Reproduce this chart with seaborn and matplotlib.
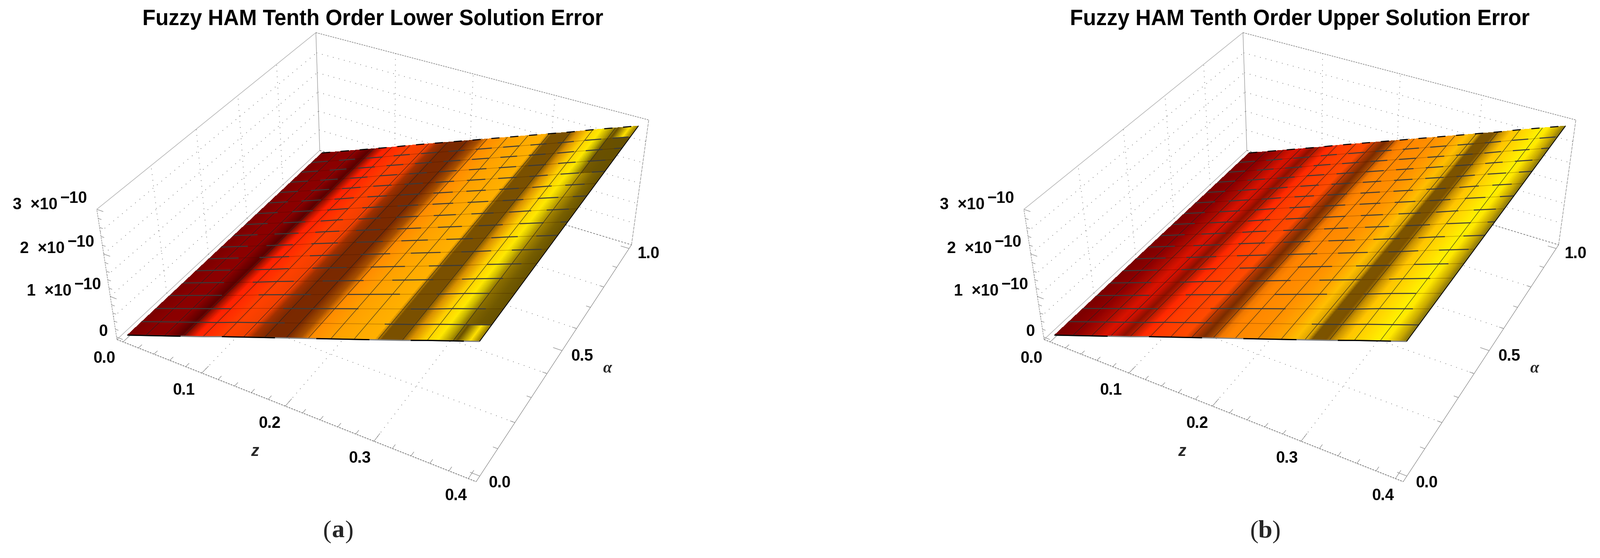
import numpy as np
import seaborn as sns
import matplotlib
matplotlib.use("Agg")
import matplotlib.pyplot as plt
from matplotlib.colors import LinearSegmentedColormap
from mpl_toolkits.mplot3d.art3d import Line3DCollection

# surface height (units of 1e-10) at the 17 mesh lines
lower_error = [0.00, 0.18, 0.36, 0.54, 0.72, 0.91, 1.09, 1.27, 1.45, 1.63, 1.81, 1.99, 2.17, 2.35, 2.54, 2.72, 2.90]
upper_error = [0.00, 0.18, 0.36, 0.54, 0.72, 0.91, 1.09, 1.27, 1.45, 1.63, 1.81, 1.99, 2.17, 2.35, 2.54, 2.72, 2.90]

# colour bands, stop = position counted in mesh cells
lower_stops = [0, 0.95, 2.0, 2.8, 3.14, 3.6, 4.05, 5.1, 6.0, 6.4, 7, 8, 8.6, 9.05, 10.05, 11, 11.8, 12.1, 12.9,
               13.3, 13.8, 14.35, 14.65, 15, 16]
lower_colors = ["#7a0000", "#8a0000", "#8c0000", "#5a0000", "#a01000", "#ff2000", "#ff2a00", "#ff4000", "#f04000",
                "#a03000", "#7a2800", "#7a2a00", "#a85000", "#ff8c00", "#ffa000", "#ffaa00", "#ffb000", "#7a5000",
                "#7a5000", "#d89000", "#ffcc00", "#ffe800", "#c0b000", "#6a5000", "#665000"]
upper_stops = [0, 1.15, 2.0, 2.6, 3.1, 3.6, 4.05, 4.55, 5.2, 6.05, 6.6, 7, 7.5, 7.85, 8.25, 8.6, 10.05, 11, 11.55,
               12.05, 12.25, 12.8, 13.15, 13.6, 14.25, 14.9, 15.2, 15.65, 16]
upper_colors = ["#7a0000", "#8f0000", "#b00c00", "#d81200", "#cc1000", "#8c1000", "#c01c00", "#ff2800", "#ff3a00",
                "#ff4400", "#ff4a00", "#b83800", "#7a2c00", "#a04400", "#f07800", "#ff8400", "#ff9000", "#ffa400",
                "#ffbe00", "#d8a000", "#7c5400", "#7c5200", "#c89000", "#ffc400", "#ffd800", "#fff000", "#ffe800",
                "#c8a800", "#7a6a10"]

# lower panel: yellow patches right of the bright band, per mesh row from the front
lower_patch_stops = [14.35, 15.0, 15.5, 16]
lower_patch_colors = ["#ffe800", "#d8b400", "#8a7000", "#665000"]
lower_patch_rows = [0.0, 0.2, 0.3, 0.3, 0.4, 0.4, 0.5, 0.5, 0.5, 0.6, 0.7, 0.6, 0.1, 0.0, 0.0, 0.0]
lower_end_stops = [14.35, 14.8, 15.1, 15.6, 16]
lower_end_colors = ["#ffe800", "#b09800", "#6a5000", "#ffe000", "#806800"]
lower_end_rows = [0, 15]

z_ticks = [0.0, 0.1, 0.2, 0.3, 0.4]
alpha_ticks = [0.0, 0.5, 1.0]
alpha_grid = [0.2, 0.4, 0.6, 0.8]
z_grid = [0.1, 0.2, 0.3]
err_grid = [0.5, 1.0, 1.5, 2.0, 2.5]

# plot box limits
XLO, XHI = -0.008, 0.408
YLO, YHI = -0.02, 1.02
ZLO, ZHI = -0.06, 3.0

# where the box corners sit on the picture (panel a pixels), panel b is the same shifted
corners = [((XLO, YLO, ZLO), (274, 797)), ((XHI, YLO, ZLO), (1121, 1132)), ((XHI, YHI, ZLO), (1485, 578)),
           ((XLO, YHI, ZLO), (753, 353)), ((XLO, YLO, ZHI), (228, 494)), ((XLO, YHI, ZHI), (743, 77)),
           ((XHI, YHI, ZHI), (1526, 280))]

W, H = 3764, 1312
PANEL_SHIFT = 2181


def fit_camera():
    # projective camera from the corner pairs
    rows = []
    for (x, y, z), (u, v) in corners:
        u, v = u / 1000, v / 1000
        rows.append([x, y, z, 1, 0, 0, 0, 0, -u * x, -u * y, -u * z, -u])
        rows.append([0, 0, 0, 0, x, y, z, 1, -v * x, -v * y, -v * z, -v])
    p = np.linalg.svd(np.array(rows))[2][-1].reshape(3, 4)
    center = np.linalg.svd(p)[2][-1]
    return np.array([p[0] * 1000, p[1] * 1000, center, p[2]])


def line3(ax, x, y, z, color, lw, dashes=None, alpha=1, zorder=2):
    # Line3D comes out empty with the fitted camera, a collection projects fine
    seg = np.column_stack([x, y, z])
    style = "solid" if dashes is None else (0, dashes)
    lines = Line3DCollection([seg], colors=color, linewidths=lw, linestyles=style, alpha=alpha, zorder=zorder,
                             capstyle="butt")
    ax.add_collection3d(lines, autolim=False)


def band_colors(stops, colors, cells):
    # colours at the given cell positions, flat before the first stop
    pal = np.array(sns.color_palette(colors))
    return np.column_stack([np.interp(cells, stops, pal[:, c]) for c in range(3)])


def draw_panel(ax, camera, title, error, stops, colors, tag, patch=None, end=None):
    ax.set_axis_off()
    ax.get_proj = lambda: camera
    ax.apply_aspect = lambda position=None: None

    dots = (1.1, 8.5)
    grid_color = "#606060"
    # floor grid
    for x in z_grid:
        line3(ax, [x, x], [YLO, YHI], [ZLO, ZLO], grid_color, 1.0, dots)
    for y in alpha_grid:
        line3(ax, [XLO, XHI], [y, y], [ZLO, ZLO], grid_color, 1.0, dots)
    # back wall and left wall
    for x in z_grid:
        line3(ax, [x, x], [YHI, YHI], [ZLO, ZHI], grid_color, 1.0, dots)
    for y in alpha_grid:
        line3(ax, [XLO, XLO], [y, y], [ZLO, ZHI], grid_color, 1.0, dots)
    for e in err_grid:
        line3(ax, [XLO, XHI], [YHI, YHI], [e, e], grid_color, 1.0, dots)
        line3(ax, [XLO, XLO], [YLO, YHI], [e, e], grid_color, 1.0, dots)

    # box
    edge = "#a8a8a8"
    line3(ax, [XLO, XLO], [YLO, YHI], [ZHI, ZHI], edge, 0.9)
    line3(ax, [XLO, XHI], [YHI, YHI], [ZHI, ZHI], "#777777", 1.0, (2.6, 1.6))
    line3(ax, [XLO, XLO], [YLO, YLO], [ZLO, ZHI], "#888888", 0.9, (3, 1.2))
    line3(ax, [XLO, XLO], [YHI, YHI], [ZLO, ZHI], "#999999", 0.9)
    line3(ax, [XHI, XHI], [YHI, YHI], [ZLO, ZHI], "#888888", 0.9, (5, 1.5))
    line3(ax, [XLO, XHI], [YLO, YLO], [ZLO, ZLO], "#666666", 1.1, (3, 1.6))
    line3(ax, [XHI, XHI], [YLO, YHI], [ZLO, ZLO], "#8a8a8a", 0.9)
    line3(ax, [XLO, XLO], [YLO, YHI], [ZLO, ZLO], edge, 0.9)
    line3(ax, [XLO, XHI], [YHI, YHI], [ZLO, ZLO], "#666666", 1.0, (3, 2.5))

    # tick marks
    for x in np.arange(0, 0.401, 0.02):
        size = 0.03 if round(x * 100) % 10 == 0 else 0.015
        line3(ax, [x, x], [YLO, YLO + size], [ZLO, ZLO], "#808080", 0.8)
    for y in np.arange(0, 1.01, 0.1):
        size = 0.01 if round(y * 10) % 5 == 0 else 0.005
        line3(ax, [XHI, XHI - size], [y, y], [ZLO, ZLO], "#808080", 0.8)
    for e in np.arange(0, 3.01, 0.2):
        size = 0.008 if round(e * 5) % 5 == 0 else 0.004
        line3(ax, [XLO, XLO + size], [YLO, YLO], [e, e], "#808080", 0.8)

    # surface, fine columns so the colour bands look smooth
    mesh_x = np.linspace(0, 0.4, 17)
    mesh_y = np.linspace(0, 1, 17)
    cells = np.linspace(0, 16, 321)
    surf_x, surf_y = np.meshgrid(cells / 16 * 0.4, mesh_y)
    surf_z = np.interp(surf_x, mesh_x, error)
    main = band_colors(stops, colors, cells)
    face = np.ones(surf_x.shape + (4,))
    for row in range(17):
        rgb = main
        if patch is not None and row < 16:
            mix = np.where(cells > patch[0][0], patch[2][row], 0)[:, None]
            rgb = main * (1 - mix) + band_colors(patch[0], patch[1], cells) * mix
        if end is not None and row in end[2]:
            rgb = np.where(cells[:, None] > end[0][0], band_colors(end[0], end[1], cells), main)
        face[row, :, :3] = rgb
    ax.plot_surface(surf_x, surf_y, surf_z, facecolors=face, rstride=1, cstride=1, linewidth=0,
                    antialiased=False, shade=False, zorder=3)

    # mesh
    for i, x in enumerate(mesh_x):
        if 0 < i < 16:
            line3(ax, [x, x], [0, 1], [error[i], error[i]], "#202020", 0.8, alpha=0.85, zorder=4)
    for k in range(1, 16):
        y = mesh_y[k]
        line3(ax, mesh_x, [y] * 17, error, "#301000", 1.0, alpha=0.3, zorder=4)
        on = 230 / k + 12
        line3(ax, mesh_x, [y] * 17, error, "#3a3a3a", 1.7, (on, 0.7 * on), zorder=5)
    # outline of the surface
    line3(ax, mesh_x, [0] * 17, error, "#808080", 2.0, zorder=5)
    line3(ax, mesh_x, [0] * 17, error, "black", 2.0, (90, 70), zorder=6)
    line3(ax, mesh_x, [1] * 17, error, "black", 1.8, (14, 18), zorder=6)
    line3(ax, [0.4, 0.4], [0, 1], [error[16], error[16]], "black", 1.3, zorder=6)

    # texts, panel pixels
    tick = dict(fontsize=27, fontweight="bold", ha="center", va="center", color="black", transform=ax.transData)
    ax.text2D(877, 45, title, fontsize=36.4, fontweight="bold", ha="center", va="center", color="black",
              transform=ax.transData)
    z_spots = [(246, 843), (433, 918), (635, 996), (847, 1078), (1073, 1166)]
    for v, (px, py) in zip(z_ticks, z_spots):
        ax.text2D(px, py, f"{v:.1f}", **tick)
    alpha_spots = [(1176, 1136), (1370, 838), (1526, 597)]
    for v, (px, py) in zip(alpha_ticks, alpha_spots):
        ax.text2D(px, py, f"{v:.1f}", **tick)
    ax.text2D(243, 780, "0", **tick)
    for digit, xb, yb in [("1", 116, 685), ("2", 100, 585), ("3", 83, 482)]:
        ax.text2D(xb, yb, digit + "  ×10", **tick)
        ax.text2D(xb + 90, yb - 15, "−10", **tick)
    ax.text2D(600, 1062, "z", fontsize=27, fontweight="bold", style="italic", ha="center", va="center",
              transform=ax.transData)
    ax.text2D(1429, 867, "α", fontsize=27, fontweight="bold", style="italic", ha="center", va="center",
              family="Liberation Serif", transform=ax.transData)
    serif = dict(fontsize=43, family="Liberation Serif", ha="center", va="center", transform=ax.transData)
    ax.text2D(769, 1250, "(", **serif)
    ax.text2D(795, 1250, tag, fontweight="bold", **serif)
    ax.text2D(821, 1250, ")", **serif)


def main():
    sns.set_theme(style="white")
    plt.rcParams["font.family"] = ["Liberation Sans", "DejaVu Sans"]
    plt.rcParams["lines.scale_dashes"] = False

    fig = plt.figure(figsize=(W / 100, H / 100), dpi=100, facecolor="white")
    camera = fit_camera()

    ax_a = fig.add_axes([0, 0, 0.5, 1], projection="3d", computed_zorder=False)
    ax_b = fig.add_axes([0.5, 0, 0.5, 1], projection="3d", computed_zorder=False)
    for ax, left in [(ax_a, 0), (ax_b, W / 2 - PANEL_SHIFT)]:
        ax.viewLim.intervalx = (left, left + W / 2)
        ax.viewLim.intervaly = (H, 0)
        ax.patch.set_alpha(0)

    draw_panel(ax_a, camera, "Fuzzy HAM Tenth Order Lower Solution Error", lower_error, lower_stops, lower_colors, "a",
               patch=(lower_patch_stops, lower_patch_colors, lower_patch_rows),
               end=(lower_end_stops, lower_end_colors, lower_end_rows))
    draw_panel(ax_b, camera, "Fuzzy HAM Tenth Order Upper Solution Error", upper_error, upper_stops, upper_colors, "b")

    fig.savefig("out.png", dpi=100, facecolor="white")


if __name__ == "__main__":
    main()
